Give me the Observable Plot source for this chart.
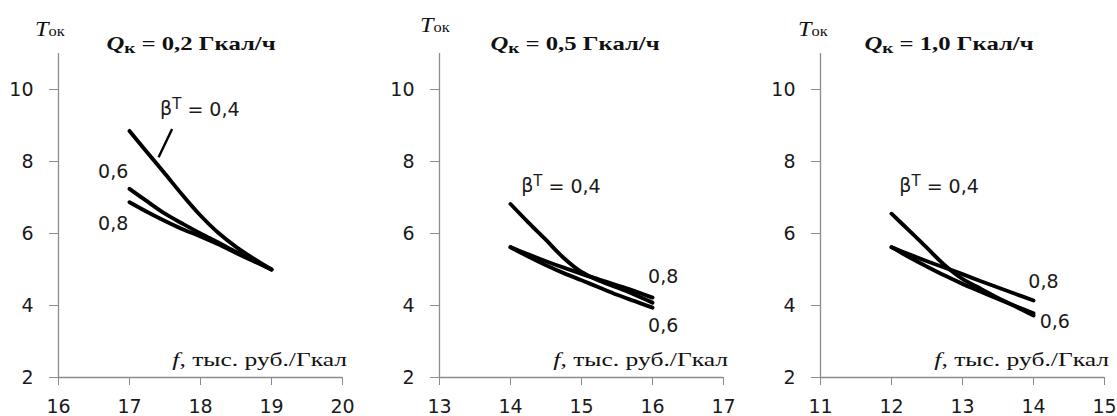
<!DOCTYPE html>
<html>
<head>
<meta charset="utf-8">
<script src="https://cdn.jsdelivr.net/npm/d3@7"></script>
<script src="https://cdn.jsdelivr.net/npm/@observablehq/plot@0.6"></script>
<style>
  html, body { margin: 0; padding: 0; background: #fff; overflow: hidden; }
  #wrap { position: relative; width: 1117px; height: 416px; }
  .panel { position: absolute; top: 0; width: 355px; height: 416px; }
  .title { position: absolute; top: 33px; font-family: "Liberation Serif", serif; font-weight: bold; font-size: 19px; color: #111; white-space: nowrap; transform: translateX(-50%) scaleX(1.3); }
  .title sub { font-size: 0.78em; vertical-align: -0.2em; line-height: 0; }
  .ylab { position: absolute; font-family: "Liberation Serif", serif; font-size: 22px; color: #111; white-space: nowrap; transform-origin: left center; transform: scaleX(1.1); }
  .ylab sub { font-size: 0.68em; vertical-align: 0; line-height: 0; font-style: normal; }
  .xlab { position: absolute; top: 350px; font-family: "Liberation Serif", serif; font-size: 18.5px; color: #111; white-space: nowrap; transform-origin: right center; transform: translateX(-100%) scaleX(1.38); }
  svg g[aria-label="x-axis tick"] path, svg g[aria-label="y-axis tick"] path { stroke: #8c8c8c; }
</style>
</head>
<body>
<div id="wrap"></div>
<script>
// ---- data ----
const betas = ["0,4", "0,6", "0,8"];

// Panel 1: Qк = 0,2 Гкал/ч
const f1 = [17, 17.25, 17.5, 17.75, 18, 18.25, 18.5, 18.75, 19];
const p1b04 = [8.85, 8.25, 7.66, 7.06, 6.5, 6.02, 5.63, 5.3, 5.0];
const p1b06 = [7.24, 6.89, 6.55, 6.27, 6.0, 5.75, 5.49, 5.25, 5.0];
const p1b08 = [6.87, 6.6, 6.35, 6.12, 5.92, 5.7, 5.46, 5.23, 5.0];
const xTicks1 = [16, 17, 18, 19, 20];

// Panel 2: Qк = 0,5 Гкал/ч
const f2 = [14, 14.25, 14.5, 14.75, 15, 15.25, 15.5, 15.75, 16];
const p2b04 = [6.82, 6.31, 5.82, 5.32, 4.93, 4.69, 4.5, 4.3, 4.08];
const p2b06 = [5.62, 5.36, 5.12, 4.9, 4.7, 4.5, 4.3, 4.12, 3.94];
const p2b08 = [5.62, 5.42, 5.23, 5.05, 4.88, 4.72, 4.56, 4.4, 4.22];
const xTicks2 = [13, 14, 15, 16, 17];

// Panel 3: Qк = 1,0 Гкал/ч
const f3 = [12, 12.25, 12.5, 12.75, 13, 13.25, 13.5, 13.75, 14];
const p3b04 = [6.55, 6.08, 5.6, 5.12, 4.74, 4.47, 4.21, 3.97, 3.72];
const p3b06 = [5.62, 5.34, 5.08, 4.83, 4.6, 4.39, 4.18, 3.98, 3.78];
const p3b08 = [5.62, 5.42, 5.23, 5.05, 4.87, 4.68, 4.5, 4.32, 4.14];
const xTicks3 = [11, 12, 13, 14, 15];

const yTicks = [2, 4, 6, 8, 10];
const titles = ["0,2", "0,5", "1,0"];

// curve labels
const labText = ["β^T = 0,4", "0,6", "0,8"];
const lab1X = [17.99, 16.77, 16.77], lab1Y = [9.47, 7.70, 6.28];
const lab2X = [14.71, 16.15, 16.15], lab2Y = [7.33, 3.44, 4.79];
const lab3X = [12.67, 14.30, 14.14], lab3Y = [7.33, 3.54, 4.65];
// leader line (panel 1)
const lead1 = {x1: 17.6, y1: 8.9, x2: 17.41, y2: 8.12};

// ---- build ----
const wrap = document.getElementById("wrap");
const panelLeft = [0, 381, 762];
const panels = [
  {f: f1, s: [p1b04, p1b06, p1b08], ticks: xTicks1, lx: lab1X, ly: lab1Y, lead: lead1},
  {f: f2, s: [p2b04, p2b06, p2b08], ticks: xTicks2, lx: lab2X, ly: lab2Y, lead: null},
  {f: f3, s: [p3b04, p3b06, p3b08], ticks: xTicks3, lx: lab3X, ly: lab3Y, lead: null}
];
const titleCx = [191, 575, 949];
const ylabPos = [[35, 16], [39, 12], [36, 16]];

panels.forEach((p, i) => {
  const rows = [];
  p.s.forEach((vals, k) => vals.forEach((v, j) => rows.push({f: p.f[j], T: v, beta: betas[k]})));
  const labs = labText.map((t, k) => ({x: p.lx[k], y: p.ly[k], t}));
  const xmin = p.ticks[0], xmax = p.ticks[p.ticks.length - 1];
  const marks = [
    Plot.ruleX([xmin], {stroke: "#8c8c8c", strokeWidth: 1.3}),
    Plot.ruleY([2], {stroke: "#8c8c8c", strokeWidth: 1.3}),
    Plot.axisX({ticks: p.ticks, tickSize: 8, tickPadding: 14, label: null, fontSize: 19, tickFormat: d => String(d)}),
    Plot.axisY({ticks: yTicks, tickSize: 9, tickPadding: 16, label: null, fontSize: 19, tickFormat: d => String(d)}),
    Plot.line(rows, {x: "f", y: "T", z: "beta", curve: "catmull-rom", stroke: "#000", strokeWidth: 3.9, strokeLinecap: "round"}),
    Plot.text(labs, {x: "x", y: "y", text: "t", fontSize: 19, fill: "#1a1a1a", textAnchor: "middle"})
  ];
  if (p.lead) marks.push(Plot.link([p.lead], {x1: "x1", y1: "y1", x2: "x2", y2: "y2", stroke: "#000", strokeWidth: 2.4}));
  const chart = Plot.plot({
    width: 355, height: 416,
    marginLeft: 58, marginRight: 13, marginTop: 53, marginBottom: 39,
    x: {domain: [xmin, xmax]},
    y: {domain: [2, 11]},
    style: {fontFamily: "DejaVu Sans", color: "#1a1a1a", background: "transparent", overflow: "visible"},
    marks
  });
  // superscript T in β^T
  chart.querySelectorAll("text").forEach(t => {
    if (t.textContent === "β^T = 0,4") {
      t.textContent = "";
      const ns = "http://www.w3.org/2000/svg";
      const a = document.createElementNS(ns, "tspan"); a.textContent = "β";
      const b = document.createElementNS(ns, "tspan"); b.textContent = "T"; b.setAttribute("dy", "-0.38em"); b.setAttribute("font-size", "15");
      const c = document.createElementNS(ns, "tspan"); c.textContent = " = 0,4"; c.setAttribute("dy", "0.38em");
      t.append(a, b, c);
    }
  });
  const div = document.createElement("div");
  div.className = "panel";
  div.style.left = panelLeft[i] + "px";
  div.appendChild(chart);
  const title = document.createElement("div");
  title.className = "title";
  title.style.left = (titleCx[i] - panelLeft[i]) + "px";
  title.innerHTML = "<i>Q</i><sub>к</sub> = " + titles[i] + " Гкал/ч";
  div.appendChild(title);
  const yl = document.createElement("div");
  yl.className = "ylab";
  yl.style.left = ylabPos[i][0] + "px";
  yl.style.top = ylabPos[i][1] + "px";
  yl.innerHTML = "<i>T</i><sub>ок</sub>";
  div.appendChild(yl);
  const xl = document.createElement("div");
  xl.className = "xlab";
  xl.style.left = "347px";
  xl.innerHTML = "<i>f</i>, тыс. руб./Гкал";
  div.appendChild(xl);
  wrap.appendChild(div);
});
</script>
</body>
</html>
